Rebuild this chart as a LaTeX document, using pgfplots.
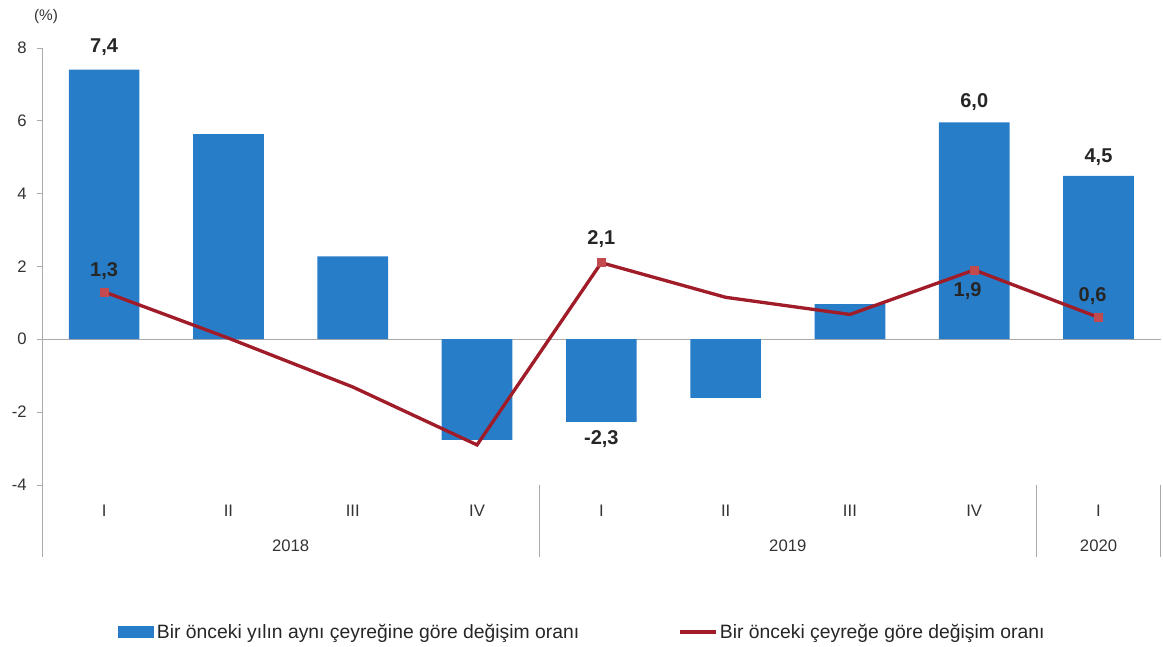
\documentclass[border=0pt]{standalone}
\usepackage{pgfplots}
\pgfplotsset{compat=1.18}
\usepackage{fontspec}
\setmainfont{Liberation Sans}
\definecolor{barblue}{RGB}{40,125,200}
\definecolor{linered}{RGB}{160,28,40}
\definecolor{markred}{RGB}{195,75,80}
\definecolor{axgray}{RGB}{170,170,170}
\begin{document}
\begin{tikzpicture}
\useasboundingbox (-31.5pt,-120.75pt) rectangle (840.75pt,363.75pt);
\begin{axis}[
 at={(0pt,0pt)}, anchor=south west,
 scale only axis, width=839pt, height=328pt,
 xmin=-0.5, xmax=8.5, ymin=-4, ymax=8,
 ytick={-4,-2,0,2,4,6,8},
 xtick={0,...,8}, xticklabels={I,II,III,IV,I,II,III,IV,I},
 axis lines*=left,
 x axis line style={draw=none},
 y axis line style={draw=axgray},
 ytick style={draw=axgray}, tick align=outside, major tick length=4pt,
 xtick style={draw=none},
 /pgf/number format/assume math mode=true,
 ticklabel style={font=\fontsize{12.5}{14}\selectfont, text=black!80},
 yticklabel style={xshift=-4pt},
 xticklabel style={anchor=base, yshift=-19.5pt},
 legend style={at={(axis description cs:0.068,-0.336)}, anchor=west, draw=none,
   font=\fontsize{14.5}{16}\selectfont, text=black!85, inner sep=0pt,
   /tikz/every even column/.append style={column sep=72pt}},
 legend columns=2, legend cell align=left,
 clip=false,
]
\addplot[axgray, forget plot] coordinates {(-0.5,0) (8.5,0)};
\addplot[ybar, fill=barblue, draw=none, bar width=53pt,
  legend image code/.code={\fill[barblue] (0pt,-4.5pt) rectangle (27pt,4.5pt);}]
  coordinates {(0,7.4) (1,5.63) (2,2.27) (3,-2.76) (4,-2.27) (5,-1.61) (6,0.96) (7,5.95) (8,4.48)};
\addlegendentry{Bir önceki yılın aynı  çeyreğine  göre değişim oranı}
\addplot[linered, line width=2.5pt, mark=square*, mark indices={1,5,8,9},
  mark options={fill=markred, draw=markred, solid, line width=0.5pt}, mark size=3pt,
  legend image code/.code={\draw[linered, line width=2.5pt] (0pt,0pt) -- (27pt,0pt);}]
  coordinates {(0,1.3) (1,0.03) (2,-1.31) (3,-2.9) (4,2.1) (5,1.15) (6,0.68) (7,1.9) (8,0.6)};
\addlegendentry{Bir önceki çeyreğe göre değişim oranı}
% separators
\draw[axgray] (axis cs:-0.5,-4) -- ([yshift=-54pt]axis cs:-0.5,-4);
\draw[axgray] (axis cs:3.5,-4) -- ([yshift=-54pt]axis cs:3.5,-4);
\draw[axgray] (axis cs:7.5,-4) -- ([yshift=-54pt]axis cs:7.5,-4);
\draw[axgray] (axis cs:8.5,-4) -- ([yshift=-54pt]axis cs:8.5,-4);
% years
\node[font=\fontsize{12.5}{14}\selectfont, text=black!80, anchor=base] at (axis cs:1.5,-4) [yshift=-49.5pt] {2018};
\node[font=\fontsize{12.5}{14}\selectfont, text=black!80, anchor=base] at (axis cs:5.5,-4) [yshift=-49.5pt] {2019};
\node[font=\fontsize{12.5}{14}\selectfont, text=black!80, anchor=base] at (axis cs:8,-4) [yshift=-49.5pt] {2020};
% (%)
\node[font=\fontsize{11.5}{13}\selectfont, text=black!80] at (axis cs:-0.5,8) [xshift=3pt, yshift=23pt] {(\%)};
% data labels
\begin{scope}[every node/.style={font=\bfseries\fontsize{15}{17}\selectfont, text=black!85}]
\node at (axis cs:0,7.4) [yshift=16.5pt] {7,4};
\node at (axis cs:0,1.3) [yshift=15.75pt] {1,3};
\node at (axis cs:4,2.1) [yshift=18pt] {2,1};
\node at (axis cs:4,-2.27) [yshift=-12.75pt] {-2,3};
\node at (axis cs:7,5.95) [yshift=15pt] {6,0};
\node at (axis cs:7,1.9) [xshift=-5pt, yshift=-15.75pt] {1,9};
\node at (axis cs:8,4.48) [yshift=14pt] {4,5};
\node at (axis cs:8,0.6) [xshift=-4.5pt, yshift=15.75pt] {0,6};
\end{scope}
\end{axis}
\end{tikzpicture}
\end{document}
